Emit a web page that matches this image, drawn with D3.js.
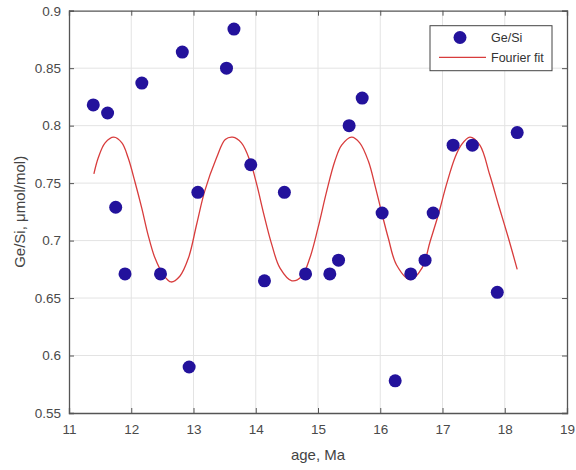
<!DOCTYPE html>
<html><head><meta charset="utf-8">
<script src="https://cdn.jsdelivr.net/npm/d3@7"></script>
<style>body{margin:0;background:#fff}svg{display:block}text{font-family:"Liberation Sans",Arial,sans-serif}</style>
</head><body><svg id="c" width="576" height="470"></svg>
<script>
const ageData = [11.39,11.62,11.75,11.90,12.17,12.47,12.82,12.93,13.07,13.53,13.65,13.92,14.14,14.46,14.80,15.19,15.33,15.50,15.71,16.03,16.24,16.49,16.72,16.85,17.17,17.48,17.88,18.20];
const geSiData = [0.818,0.811,0.729,0.671,0.837,0.671,0.864,0.590,0.742,0.850,0.884,0.766,0.665,0.742,0.671,0.671,0.683,0.800,0.824,0.724,0.578,0.671,0.683,0.724,0.783,0.783,0.655,0.794];
const fitAge = [11.40,11.47,11.58,11.72,11.85,11.95,12.06,12.17,12.27,12.38,12.52,12.64,12.78,12.92,13.05,13.18,13.37,13.51,13.63,13.77,13.91,14.02,14.12,14.26,14.39,14.58,14.74,14.87,15.00,15.14,15.27,15.38,15.54,15.67,15.81,15.92,16.02,16.13,16.26,16.48,16.67,16.80,16.93,17.07,17.20,17.30,17.44,17.60,17.76,17.90,18.06,18.20];
const fitGeSi = [0.758,0.772,0.785,0.790,0.785,0.772,0.751,0.728,0.705,0.685,0.670,0.664,0.669,0.685,0.714,0.743,0.772,0.788,0.790,0.785,0.769,0.748,0.725,0.696,0.676,0.665,0.669,0.685,0.711,0.743,0.769,0.783,0.790,0.785,0.769,0.747,0.725,0.702,0.679,0.666,0.676,0.699,0.722,0.750,0.772,0.783,0.790,0.783,0.757,0.731,0.702,0.675];
const xTicks = [11,12,13,14,15,16,17,18,19];
const yTicks = [0.55,0.6,0.65,0.7,0.75,0.8,0.85,0.9];
const seriesNames = ["Ge/Si","Fourier fit"];

const L=69,R=567,T=10.7,B=413;
const svg=d3.select("#c");
const x=d3.scaleLinear().domain([11,19]).range([L,R]);
const y=d3.scaleLinear().domain([0.55,0.9]).range([B,T]);
const axisCol="#555", textCol="#4a4a4a", gridCol="#e3e3e3";

// grid
svg.append("g").selectAll("line").data(xTicks.slice(1,-1)).join("line")
  .attr("x1",d=>x(d)).attr("x2",d=>x(d)).attr("y1",T).attr("y2",B).attr("stroke",gridCol).attr("stroke-width",1);
svg.append("g").selectAll("line").data(yTicks.slice(1,-1)).join("line")
  .attr("y1",d=>y(d)).attr("y2",d=>y(d)).attr("x1",L).attr("x2",R).attr("stroke",gridCol).attr("stroke-width",1);

// axes
const fmtY=d=>d3.format("")(+d.toFixed(2));
const xb=svg.append("g").attr("transform",`translate(0,${B})`).call(d3.axisBottom(x).tickValues(xTicks).tickSize(-5).tickPadding(11).tickFormat(d3.format("d")));
const xt=svg.append("g").attr("transform",`translate(0,${T})`).call(d3.axisTop(x).tickValues(xTicks).tickSize(-5).tickFormat(""));
const yl=svg.append("g").attr("transform",`translate(${L},0)`).call(d3.axisLeft(y).tickValues(yTicks).tickSize(-5).tickPadding(8).tickFormat(fmtY));
const yr=svg.append("g").attr("transform",`translate(${R},0)`).call(d3.axisRight(y).tickValues(yTicks).tickSize(-5).tickFormat(""));
[xb,xt,yl,yr].forEach(g=>{
  g.select(".domain").attr("stroke",axisCol).attr("stroke-width",1.3);
  g.selectAll(".tick line").attr("stroke",axisCol);
  g.selectAll(".tick text").attr("fill",textCol).attr("font-size",13.5).attr("font-family",'"Liberation Sans",Arial,sans-serif');
});

// fit line
svg.append("path").datum(fitAge.map((a,i)=>[a,fitGeSi[i]]))
  .attr("d",d3.line().x(d=>x(d[0])).y(d=>y(d[1])).curve(d3.curveCatmullRom))
  .attr("fill","none").attr("stroke","#d83c3c").attr("stroke-width",1.3);

// points
const dotCol="#23129c";
svg.append("g").selectAll("circle").data(ageData.map((a,i)=>[a,geSiData[i]])).join("circle")
  .attr("cx",d=>x(d[0])).attr("cy",d=>y(d[1])).attr("r",6.5).attr("fill",dotCol);

// labels
svg.append("text").attr("x",(L+R)/2).attr("y",460).attr("text-anchor","middle").attr("fill","#444").attr("font-size",15).text("age, Ma");
svg.append("text").attr("transform",`translate(25,${(T+B)/2}) rotate(-90)`).attr("text-anchor","middle").attr("fill","#444").attr("font-size",15).text("Ge/Si, μmol/mol)");

// legend
const lg=svg.append("g");
lg.append("rect").attr("x",430).attr("y",25.7).attr("width",122).attr("height",45).attr("fill","#fff").attr("stroke","#444").attr("stroke-width",1);
lg.append("circle").attr("cx",460).attr("cy",37.5).attr("r",6.5).attr("fill",dotCol);
lg.append("line").attr("x1",439).attr("x2",486).attr("y1",57.3).attr("y2",57.3).attr("stroke","#d83c3c").attr("stroke-width",1.3);
lg.selectAll("text.l").data(seriesNames).join("text").attr("class","l")
  .attr("x",491).attr("y",(d,i)=>i?62:42).attr("font-size",12.5).attr("fill","#333").text(d=>d);
</script></body></html>
